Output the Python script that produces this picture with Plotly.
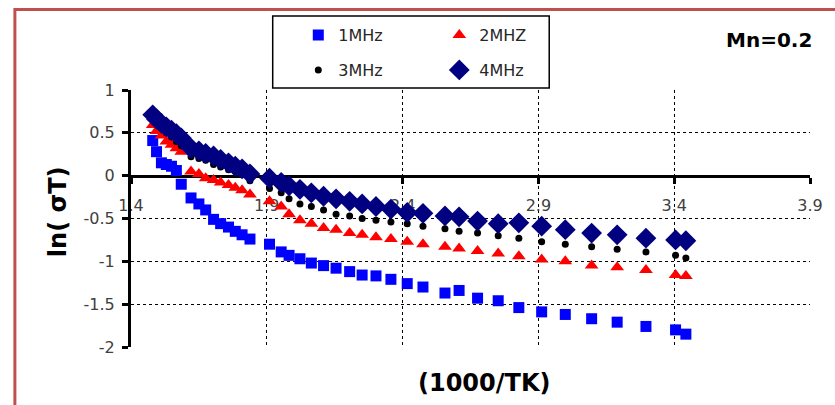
import plotly.graph_objects as go

# ---------------- data ----------------
inv_temp = [1.480, 1.494, 1.512, 1.530, 1.549, 1.567, 1.585, 1.621, 1.650, 1.675,
            1.704, 1.730, 1.759, 1.784, 1.809, 1.838,
            1.910, 1.953, 1.982, 2.022, 2.064, 2.109, 2.155, 2.205, 2.251, 2.302,
            2.357, 2.417,
            2.475, 2.556, 2.608, 2.676, 2.752, 2.828, 2.912, 2.999, 3.096, 3.190,
            3.296, 3.405, 3.443]

ln_sigT_1mhz = [0.41, 0.28, 0.15, 0.13, 0.11, 0.06, -0.10, -0.26, -0.33, -0.40,
                -0.51, -0.56, -0.60, -0.65, -0.69, -0.74,
                -0.80, -0.89, -0.93, -0.97, -1.02, -1.05, -1.08, -1.12, -1.16, -1.17,
                -1.21, -1.26,
                -1.30, -1.37, -1.34, -1.43, -1.46, -1.54, -1.59, -1.62, -1.67, -1.71,
                -1.76, -1.80, -1.85]

ln_sigT_2mhz = [0.59, 0.52, 0.47, 0.40, 0.36, 0.32, 0.28, 0.05, 0.02, -0.03,
                -0.05, -0.08, -0.11, -0.14, -0.17, -0.22,
                -0.30, -0.36, -0.45, -0.52, -0.56, -0.61, -0.63, -0.67, -0.69, -0.72,
                -0.74, -0.77,
                -0.80, -0.83, -0.85, -0.88, -0.91, -0.94, -0.98, -1.00, -1.05, -1.07,
                -1.10, -1.16, -1.17]

ln_sigT_3mhz = [0.68, 0.62, 0.56, 0.50, 0.45, 0.40, 0.35, 0.22, 0.20, 0.18,
                0.13, 0.10, 0.07, 0.05, 0.02, -0.06,
                -0.15, -0.20, -0.27, -0.33, -0.36, -0.40, -0.45, -0.47, -0.50, -0.52,
                -0.54, -0.56,
                -0.59, -0.62, -0.65, -0.67, -0.70, -0.73, -0.77, -0.80, -0.83, -0.86,
                -0.89, -0.93, -0.96]

ln_sigT_4mhz = [0.71, 0.66, 0.61, 0.57, 0.53, 0.49, 0.44, 0.32, 0.29, 0.26,
                0.23, 0.19, 0.15, 0.11, 0.08, 0.02,
                -0.03, -0.08, -0.12, -0.16, -0.20, -0.24, -0.27, -0.30, -0.33, -0.36,
                -0.39, -0.43,
                -0.44, -0.47, -0.48, -0.53, -0.56, -0.55, -0.59, -0.63, -0.67, -0.69,
                -0.73, -0.75, -0.76]

series_names = ["1MHz", "2MHZ", "3MHz", "4MHz"]

x_tick_vals = [1.4, 1.9, 2.4, 2.9, 3.4, 3.9]
x_tick_text = ["1.4", "1.9", "2.4", "2.9", "3.4", "3.9"]
y_tick_vals = [-2, -1.5, -1, -0.5, 0, 0.5, 1]
y_tick_text = ["-2", "-1.5", "-1", "-0.5", "0", "0.5", "1"]

x_range = [1.4, 3.9]
y_range = [-2, 1]

# ---------------- figure ----------------
W, H = 835, 405
ML, MR, MT, MB = 131, 14, 90, 58
PW, PH = W - ML - MR, H - MT - MB


def px_x(p):
    return (p - ML) / PW


def px_y(p):
    return (H - MB - p) / PH


styles = [
    dict(symbol="square", color="#0000FF", size=11, legend="legend"),
    dict(symbol="triangle-up", color="#FF0000", size=12, legend="legend"),
    dict(symbol="circle", color="#000000", size=7, legend="legend2"),
    dict(symbol="diamond", color="#000080", size=16, legend="legend2"),
]
values = [ln_sigT_1mhz, ln_sigT_2mhz, ln_sigT_3mhz, ln_sigT_4mhz]

fig = go.Figure()
for name, yv, st in zip(series_names, values, styles):
    fig.add_trace(go.Scatter(
        x=inv_temp, y=yv, mode="markers", name=name,
        marker=dict(symbol=st["symbol"], color=st["color"], size=st["size"],
                    line=dict(width=0)),
        legend=st["legend"],
    ))

tick_font = dict(family="DejaVu Sans", size=16, color="#404040")
zero_pos = (0 - y_range[0]) / (y_range[1] - y_range[0])

legend_common = dict(
    orientation="h", xanchor="left", yanchor="top",
    entrywidth=96, entrywidthmode="pixels", bgcolor="rgba(0,0,0,0)",
    font=dict(family="DejaVu Sans", size=16, color="#262626"),
)

fig.update_layout(
    width=W, height=H,
    margin=dict(l=ML, r=MR, t=MT, b=MB),
    paper_bgcolor="white", plot_bgcolor="white",
    font=dict(family="DejaVu Sans", color="#262626"),
    xaxis=dict(
        range=x_range, tickvals=x_tick_vals, ticktext=x_tick_text,
        anchor="free", position=zero_pos,
        showline=True, linecolor="black", linewidth=3,
        ticks="outside", ticklen=6, tickwidth=3, tickcolor="black",
        ticklabelstandoff=8,
        showgrid=True, gridcolor="black", gridwidth=1, griddash="dot",
        zeroline=False, tickfont=tick_font, layer="below traces",
    ),
    yaxis=dict(
        range=y_range, tickvals=y_tick_vals, ticktext=y_tick_text,
        showline=True, linecolor="black", linewidth=3,
        ticks="outside", ticklen=6, tickwidth=3, tickcolor="black",
        ticklabelstandoff=4,
        showgrid=True, gridcolor="black", gridwidth=1, griddash="dot",
        zeroline=False, tickfont=tick_font,
    ),
    legend=dict(legend_common, x=px_x(301), y=px_y(18)),
    legend2=dict(legend_common, x=px_x(301), y=px_y(53)),
    showlegend=True,
)

# outer frame and legend box
fig.add_shape(type="rect", xref="paper", yref="paper",
              x0=px_x(13), x1=px_x(860), y0=px_y(430), y1=px_y(9.5),
              line=dict(color="#C0504D", width=3), layer="below")
fig.add_shape(type="rect", xref="paper", yref="paper",
              x0=px_x(275), x1=px_x(556), y0=px_y(88), y1=px_y(16),
              line=dict(color="black", width=1.5), layer="below")

fig.add_annotation(text="<b>Mn=0.2</b>", xref="paper", yref="paper",
                   x=px_x(779), y=px_y(40), xanchor="center", yanchor="middle",
                   showarrow=False,
                   font=dict(family="DejaVu Sans", size=20, color="black"))
fig.add_annotation(text="<b>(1000/TK)</b>", xref="paper", yref="paper",
                   x=px_x(490), y=px_y(383), xanchor="center", yanchor="middle",
                   showarrow=False,
                   font=dict(family="DejaVu Sans", size=24, color="black"))
fig.add_annotation(text="<b>ln( σT)</b>", xref="paper", yref="paper",
                   x=px_x(57), y=px_y(212), xanchor="center", yanchor="middle",
                   showarrow=False, textangle=-90,
                   font=dict(family="DejaVu Sans", size=24, color="black"))

fig.write_html("out.html",
               config={"displayModeBar": False},
               post_script="document.body.style.margin='0px';"
                           "document.body.style.overflow='hidden';")
